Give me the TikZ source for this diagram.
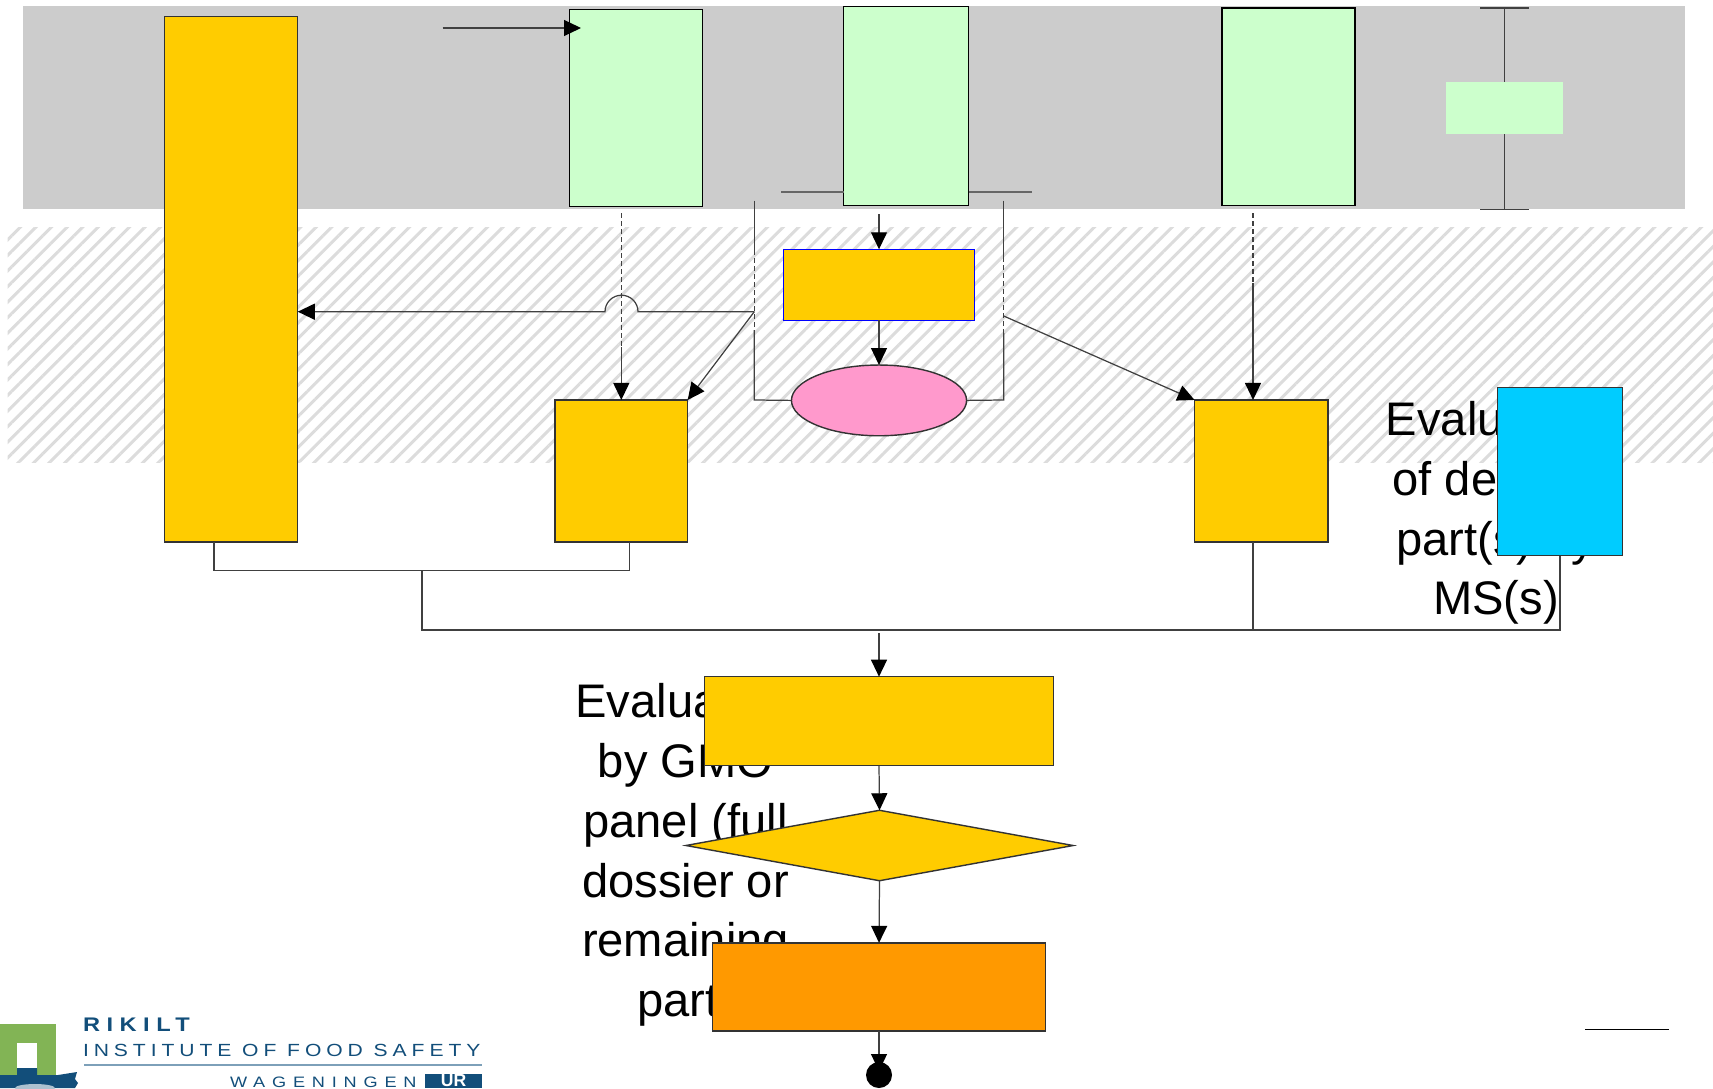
\documentclass[tikz,border=0pt]{standalone}
\usepackage{fontspec}
\setmainfont{Liberation Sans}
\newfontfamily\logofont[FakeStretch=1.2,LetterSpace=28]{Liberation Sans}
\usepackage{xcolor}
\usetikzlibrary{arrows.meta, shapes.geometric, patterns.meta}
\definecolor{bandgray}{RGB}{204,204,204}
\definecolor{hatchgray}{RGB}{220,220,220}
\definecolor{boxorange}{RGB}{255,204,0}
\definecolor{endorange}{RGB}{255,153,0}
\definecolor{boxgreen}{RGB}{204,255,204}
\definecolor{boxpink}{RGB}{255,153,204}
\definecolor{boxcyan}{RGB}{0,204,255}
\definecolor{logoblue}{RGB}{18,78,122}
\definecolor{logogreen}{RGB}{130,180,85}
\definecolor{logorule}{RGB}{125,160,185}
\tikzset{
  pbox/.style={draw=black!80, line width=0.4pt, inner sep=0pt, outer sep=0pt},
  orangebox/.style={pbox, fill=boxorange},
  greenbox/.style={pbox, draw=black, fill=boxgreen},
  band/.style={inner sep=0pt, outer sep=0pt},
  evaltext/.style={align=center, inner sep=0pt, font=\fontsize{13.4}{17}\selectfont},
  logo/.style={inner sep=0pt, outer sep=0pt, text=logoblue, anchor=base west},
  conn/.style={line width=0.35pt, color=black!75},
  whisk/.style={line width=0.6pt, color=black!60},
  arr/.style={conn, -{Triangle[length=0.17cm,width=0.16cm,black]}},
  dashcon/.style={conn, dash pattern=on 0.05cm off 0.03cm},
}
\begin{document}
\begin{tikzpicture}[x=0.01cm,y=-0.01cm]
  \useasboundingbox (0,0) rectangle (1713,1088);
  % backgrounds
  \node[band, fill=bandgray, minimum width=16.61cm, minimum height=2.03cm] (grey) at (853.5,107.9) {};
  \node[band, minimum width=17.05cm, minimum height=2.35cm, pattern={Lines[angle=45,distance=0.11cm,line width=0.03cm]}, pattern color=hatchgray] (hatch) at (860.5,345) {};
  % texts behind the boxes
  \node[evaltext] (evalms) at (1496,513) {Evaluation\\of de\phantom{fined}\\part(s) by\\MS(s)};
  \node[evaltext] (evalgmo) at (685.5,855) {Evaluation\\by GMO\\panel (full\\dossier or\\remaining\\part)};
  % boxes
  \node[orangebox, minimum width=1.332cm, minimum height=5.253cm] (tall) at (231.1,279.3) {};
  \node[greenbox, minimum width=1.333cm, minimum height=1.97cm] (greena) at (636,107.8) {};
  \node[greenbox, minimum width=1.248cm, minimum height=1.99cm] (greenb) at (906.1,105.8) {};
  \node[greenbox, minimum width=1.33cm, minimum height=1.973cm] (greenc) at (1288.5,106.6) {};
  \node[band, fill=boxgreen, minimum width=1.16cm, minimum height=0.523cm] (greend) at (1504.5,107.9) {};
  \node[orangebox, draw=blue, minimum width=1.914cm, minimum height=0.71cm] (check) at (879,284.8) {};
  \node[pbox, ellipse, fill=boxpink, minimum width=1.75cm, minimum height=0.707cm] (oval) at (879,400.4) {};
  \node[orangebox, minimum width=1.327cm, minimum height=1.42cm] (boxleft) at (621.3,471) {};
  \node[orangebox, minimum width=1.334cm, minimum height=1.42cm] (boxright) at (1261.3,471) {};
  \node[pbox, fill=boxcyan, minimum width=1.25cm, minimum height=1.683cm] (cyan) at (1560,471.4) {};
  \node[orangebox, minimum width=3.487cm, minimum height=0.89cm] (opinion) at (879,721.2) {};
  \node[orangebox, diamond, minimum width=3.87cm, minimum height=0.704cm] (vote) at (879.5,845.5) {};
  \node[pbox, fill=endorange, minimum width=3.323cm, minimum height=0.883cm] (result) at (879,987) {};
  \node[circle, fill=black, inner sep=0pt, outer sep=0pt, minimum size=0.26cm] (stop) at (879,1075) {};
  % free ends
  \coordinate (ina) at (442.7,28);
  \coordinate (dashl) at (621.3,213);
  \coordinate (dashlb) at (621.3,347);
  \coordinate (dashr) at (1253,213);
  \coordinate (dashrb) at (1253,283);
  \coordinate (topc) at (879,214);
  \coordinate (brl) at (754.3,200.7);
  \coordinate (brr) at (1003.7,200.7);
  \coordinate (jl) at (754.3,311.7);
  \coordinate (jr) at (1003.7,316);
  \coordinate (tjl) at (214,570.7);
  \coordinate (tjm) at (422,570.7);
  \coordinate (tjr) at (629.5,570.7);
  \coordinate (busl) at (422,630);
  \coordinate (busr) at (1560,630);
  \coordinate (busc) at (879,633);
  % connectors
  \draw[arr] (ina) -- (581,28);
  \draw[whisk] (781,192) -- (greenb.west |- 0,192);
  \draw[whisk] (greenb.east |- 0,192) -- (1031.5,192);
  \draw[conn] (1504.5,8) -- (greend.north);
  \draw[conn] (greend.south) -- (1504.5,209.5);
  \draw[conn] (1480,8) -- (1529,8);
  \draw[conn] (1480,209.5) -- (1529,209.5);
  \draw[dashcon] (dashl) -- (dashlb);
  \draw[arr] (dashlb) -- (boxleft.north);
  \draw[dashcon] (dashr) -- (dashrb);
  \draw[arr] (dashrb) -- (dashrb |- boxright.north);
  \draw[arr] (topc) -- (check.north);
  \draw[arr] (check.south) -- (oval.north);
  \draw[conn] (brl) -- (754.3,250);
  \draw[dashcon] (754.3,250) -- (754.3,330);
  \draw[conn] (754.3,330) -- (754.3,400) -- (oval.west);
  \draw[conn] (brr) -- (1003.7,257);
  \draw[dashcon] (1003.7,257) -- (1003.7,333);
  \draw[conn] (1003.7,333) -- (1003.7,400) -- (oval.east);
  \draw[arr] (jl) -- (638,311.7) arc[start angle=0, end angle=-180, radius=16.5] -- (tall.east |- jl);
  \draw[arr] (jl) -- (boxleft.north east);
  \draw[arr] (jr) -- (boxright.north west);
  \draw[conn] (tjl |- tall.south) -- (tjl) -- (tjr) -- (tjr |- boxleft.south);
  \draw[conn] (tjm) -- (busl) -- (busr) -- (busr |- cyan.south);
  \draw[conn] (dashr |- boxright.south) -- (dashr |- busl);
  \draw[arr] (busc) -- (opinion.north);
  \draw[arr] (opinion.south) -- (vote.north);
  \draw[arr] (vote.south) -- (result.north);
  \draw[arr, shorten >=-0.09cm] (result.south) -- (stop.north);
  \coordinate (linel) at (1585,1029.3);
  \coordinate (liner) at (1669,1029.3);
  \draw[line width=0.4pt] (linel) -- (liner);
  % logo
  \fill[logogreen] (0,1024) rectangle (56,1075);
  \fill[white] (17,1043) rectangle (37,1070);
  \fill[logoblue] (0,1075) -- (17,1075) -- (17,1068) -- (37,1068) -- (37,1075) -- (58,1075) -- (77,1072) -- (75,1079) -- (78,1083) -- (75,1088) -- (0,1088) -- cycle;
  \fill[logoblue!35] (35,1088) ellipse[x radius=20, y radius=4];
  \node[logo, font=\logofont\addfontfeature{LetterSpace=33}\bfseries\fontsize{5.6}{6}\selectfont] (rikilt) at (83,1031) {RIKILT};
  \node[logo, font=\logofont\fontsize{5}{6}\selectfont] (inst) at (83,1056) {INSTITUTE OF FOOD SAFETY};
  \draw[logorule, line width=0.6pt] (84,1064.7) -- (482,1064.7);
  \node[logo, font=\logofont\addfontfeature{LetterSpace=45}\fontsize{4.3}{5}\selectfont] (wag) at (230,1087.5) {WAGENINGEN};
  \node[fill=logoblue, text=white, inner sep=0pt, outer sep=0pt, minimum width=0.57cm, minimum height=0.14cm, font=\bfseries\fontsize{5}{5}\selectfont] (ur) at (453.5,1081) {UR};
\end{tikzpicture}
\end{document}
